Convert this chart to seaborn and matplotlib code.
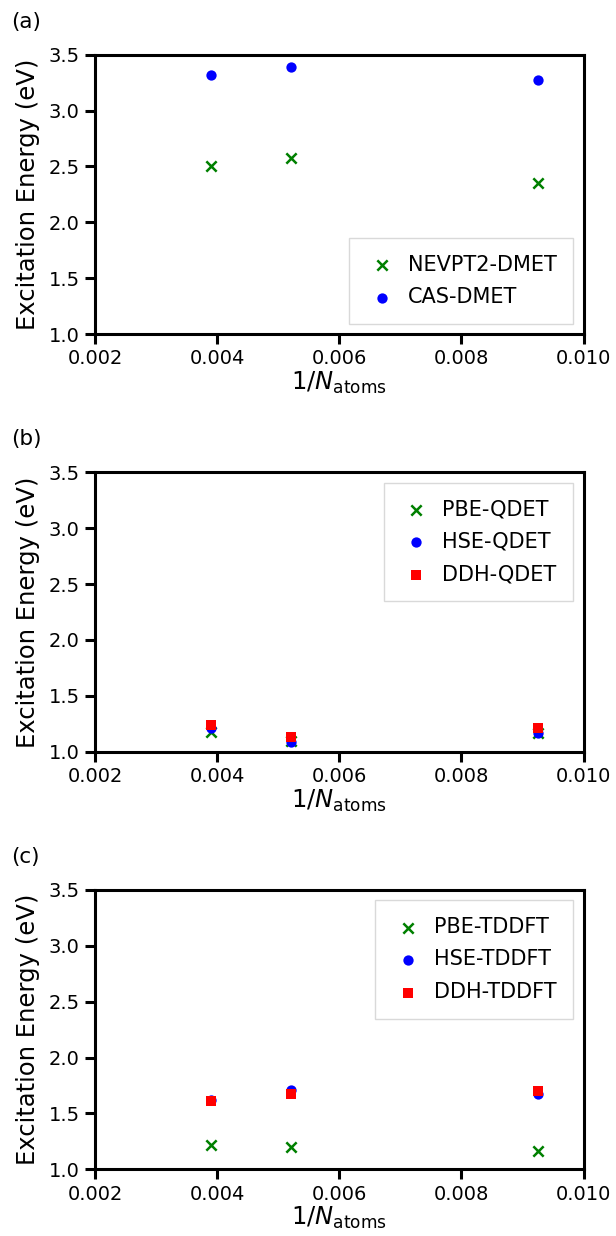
import numpy as np
import pandas as pd
import matplotlib
matplotlib.use("Agg")
import matplotlib.pyplot as plt
import seaborn as sns

# supercell sizes (inverse number of atoms)
inv_natoms = [1 / 256, 1 / 192, 1 / 108]

# (a) embedding with DMET
nevpt2_dmet = [2.50, 2.58, 2.35]
cas_dmet = [3.32, 3.39, 3.27]

# (b) QDET
pbe_qdet = [1.18, 1.10, 1.17]
hse_qdet = [1.21, 1.09, 1.165]
ddh_qdet = [1.24, 1.13, 1.21]

# (c) TDDFT
pbe_tddft = [1.22, 1.20, 1.16]
hse_tddft = [1.62, 1.71, 1.67]
ddh_tddft = [1.61, 1.67, 1.70]

panel_labels = ["(a)", "(b)", "(c)"]
x_ticks = [0.002, 0.004, 0.006, 0.008, 0.010]
y_ticks = [1.0, 1.5, 2.0, 2.5, 3.0, 3.5]

sns.set_theme(style="ticks")
plt.rcParams["font.family"] = ["DejaVu Sans"]
plt.rcParams["mathtext.fontset"] = "dejavusans"
plt.rcParams["text.color"] = "black"
plt.rcParams["axes.labelcolor"] = "black"
plt.rcParams["xtick.color"] = "black"
plt.rcParams["ytick.color"] = "black"

panels = [
    [("NEVPT2-DMET", nevpt2_dmet, "green", "x"),
     ("CAS-DMET", cas_dmet, "blue", "o")],
    [("PBE-QDET", pbe_qdet, "green", "x"),
     ("HSE-QDET", hse_qdet, "blue", "o"),
     ("DDH-QDET", ddh_qdet, "red", "s")],
    [("PBE-TDDFT", pbe_tddft, "green", "x"),
     ("HSE-TDDFT", hse_tddft, "blue", "o"),
     ("DDH-TDDFT", ddh_tddft, "red", "s")],
]
legend_loc = ["lower right", "upper right", "upper right"]

W, H = 616, 1236
fig = plt.figure(figsize=(W / 100, H / 100), dpi=100)
left, right = 95, 583.5
tops = [54.7, 472.3, 889.9]
height = 279.4

for i, series in enumerate(panels):
    top = tops[i]
    ax = fig.add_axes([left / W, 1 - (top + height) / H, (right - left) / W, height / H])
    for name, vals, color, marker in series:
        df = pd.DataFrame({"x": inv_natoms, "y": vals})
        kw = dict(s=55, linewidth=1.8) if marker == "x" else dict(s=55, linewidth=0)
        sns.scatterplot(data=df, x="x", y="y", ax=ax, color=color, marker=marker,
                        label=name, **kw)
    ax.set_xlim(0.002, 0.010)
    ax.set_ylim(1.0, 3.5)
    ax.set_xticks(x_ticks)
    ax.set_yticks(y_ticks)
    ax.set_xticklabels([f"{t:.3f}" for t in x_ticks])
    ax.set_yticklabels([f"{t:.1f}" for t in y_ticks])
    ax.set_xlabel(r"1/$N_{\mathrm{atoms}}$", fontsize=17.5, labelpad=1)
    ax.set_ylabel("Excitation Energy (eV)", fontsize=17.5, labelpad=6)
    ax.tick_params(axis="both", labelsize=14, width=2.2, length=7, pad=4,
                   direction="out", color="black")
    for sp in ax.spines.values():
        sp.set_linewidth(2.2)
        sp.set_color("black")
    leg = ax.legend(loc=legend_loc[i], fontsize=15, frameon=True, borderpad=0.8,
                    handlelength=1.5, handletextpad=0.5, labelspacing=0.6,
                    borderaxespad=0.5, fancybox=False)
    leg.get_frame().set_edgecolor("#d0d0d0")
    leg.get_frame().set_linewidth(1.0)
    fig.text(11 / W, 1 - (top - 33) / H, panel_labels[i], fontsize=15.5, va="center", ha="left")

fig.savefig("out.png", dpi=100)
